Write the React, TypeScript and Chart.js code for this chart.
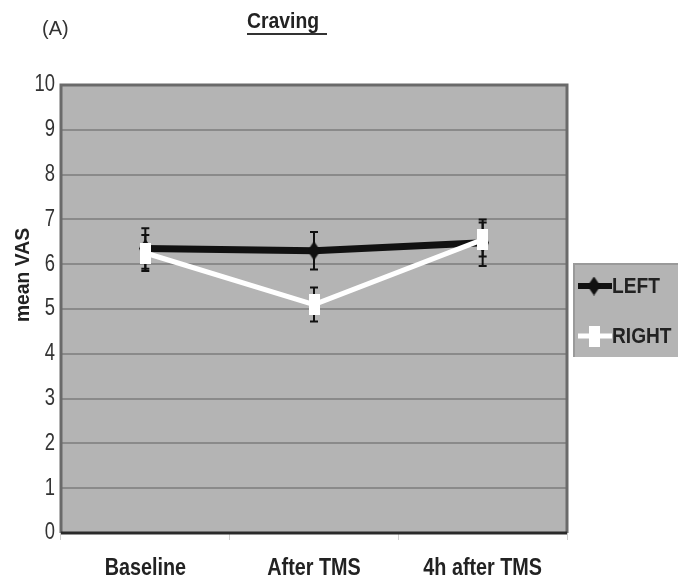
import React, { useEffect, useRef } from 'react';
import { Chart, registerables } from 'chart.js';

Chart.register(...registerables);

const categories = ['Baseline', 'After TMS', '4h after TMS'];
const leftMeans = [6.35, 6.3, 6.48];
const leftErrors = [0.45, 0.42, 0.52];
const rightMeans = [6.25, 5.1, 6.55];
const rightErrors = [0.4, 0.38, 0.38];
const seriesNames = ['LEFT', 'RIGHT'];
const yMin = 0;
const yMax = 10;
const yStep = 1;
const panelLabel = '(A)';
const chartTitle = 'Craving';
const yAxisTitle = 'mean VAS';

const FONT = "'Liberation Sans', Arial, sans-serif";

function makeMarker(kind: 'diamond' | 'rect'): HTMLCanvasElement {
  const c = document.createElement('canvas');
  if (kind === 'diamond') {
    c.width = 13; c.height = 19;
    const g = c.getContext('2d')!;
    g.fillStyle = '#111';
    g.beginPath();
    g.moveTo(6.5, 0); g.lineTo(13, 9.5); g.lineTo(6.5, 19); g.lineTo(0, 9.5);
    g.closePath(); g.fill();
  } else {
    c.width = 11; c.height = 21;
    const g = c.getContext('2d')!;
    g.fillStyle = '#ffffff';
    g.fillRect(0, 0, 11, 21);
  }
  return c;
}

// draw horizontally-condensed text (narrow font look)
function narrowText(ctx: CanvasRenderingContext2D, text: string, x: number, y: number, font: string, sx: number, align: 'left' | 'center' | 'right', color: string, rot = 0) {
  ctx.save();
  ctx.translate(x, y);
  if (rot) ctx.rotate(rot);
  ctx.scale(sx, 1);
  ctx.font = font;
  ctx.fillStyle = color;
  ctx.textAlign = align;
  ctx.textBaseline = 'middle';
  ctx.fillText(text, 0, 0);
  ctx.restore();
}

export default function App() {
  const ref = useRef<HTMLCanvasElement | null>(null);
  useEffect(() => {
    const canvas = ref.current!;
    const leftMarker = makeMarker('diamond');
    const rightMarker = makeMarker('rect');

    const bgPlugin = {
      id: 'bgPlugin',
      beforeDraw(chart: any) {
        const { ctx, chartArea: a } = chart;
        ctx.save();
        ctx.fillStyle = '#ffffff';
        ctx.fillRect(0, 0, chart.width, chart.height);
        ctx.fillStyle = '#b4b4b4';
        ctx.fillRect(a.left, a.top, a.right - a.left, a.bottom - a.top);
        ctx.restore();
      },
    };

    const errPlugin = {
      id: 'errPlugin',
      beforeDatasetsDraw(chart: any) {
        const { ctx } = chart;
        const xs = chart.scales.x;
        const ys = chart.scales.y;
        const sets = [
          { m: leftMeans, e: leftErrors },
          { m: rightMeans, e: rightErrors },
        ];
        ctx.save();
        ctx.strokeStyle = '#111';
        ctx.lineWidth = 2;
        sets.forEach((s) => {
          s.m.forEach((v, i) => {
            const x = xs.getPixelForValue(i);
            const yt = ys.getPixelForValue(v + s.e[i]);
            const yb = ys.getPixelForValue(v - s.e[i]);
            ctx.beginPath();
            ctx.moveTo(x, yt); ctx.lineTo(x, yb);
            ctx.moveTo(x - 4, yt); ctx.lineTo(x + 4, yt);
            ctx.moveTo(x - 4, yb); ctx.lineTo(x + 4, yb);
            ctx.stroke();
          });
        });
        ctx.restore();
      },
    };

    const framePlugin = {
      id: 'framePlugin',
      afterDraw(chart: any) {
        const { ctx, chartArea: a } = chart;
        const xs = chart.scales.x;
        const ys = chart.scales.y;
        ctx.save();
        // frame
        ctx.strokeStyle = '#6a6a6a';
        ctx.lineWidth = 3;
        ctx.beginPath();
        ctx.moveTo(a.left, a.bottom); ctx.lineTo(a.left, a.top); ctx.lineTo(a.right, a.top); ctx.lineTo(a.right, a.bottom);
        ctx.stroke();
        ctx.strokeStyle = '#2a2a2a';
        ctx.lineWidth = 3;
        ctx.beginPath();
        ctx.moveTo(a.left, a.bottom); ctx.lineTo(a.right, a.bottom);
        ctx.stroke();

        // y tick labels
        ys.ticks.forEach((t: any) => {
          const y = ys.getPixelForValue(t.value);
          narrowText(ctx, String(t.value), a.left - 6, y, `23px ${FONT}`, 0.8, 'right', '#333');
        });
        // x tick labels
        xs.getLabels().forEach((lab: string, i: number) => {
          const x = xs.getPixelForValue(i);
          narrowText(ctx, lab, x, a.bottom + 36, `bold 23px ${FONT}`, 0.86, 'center', '#222');
        });
        // y axis title
        narrowText(ctx, yAxisTitle, 23, (a.top + a.bottom) / 2 - 34, `bold 21px ${FONT}`, 0.92, 'center', '#222', -Math.PI / 2);

        // titles
        narrowText(ctx, panelLabel, 42, 29, `21px ${FONT}`, 0.95, 'left', '#333');
        const tx = 247;
        narrowText(ctx, chartTitle, tx, 22, `bold 22px ${FONT}`, 0.88, 'left', '#222');
        ctx.fillStyle = '#333';
        ctx.fillRect(tx, 33, 80, 2);

        // legend
        const lx = a.right + 7;
        const ly = 264;
        ctx.fillStyle = '#b4b4b4';
        ctx.fillRect(lx, ly, chart.width - lx, 93);
        ctx.strokeStyle = '#9a9a9a';
        ctx.lineWidth = 2;
        ctx.beginPath();
        ctx.moveTo(lx, ly + 93); ctx.lineTo(lx, ly); ctx.lineTo(chart.width, ly);
        ctx.stroke();
        const entries = [
          { y: ly + 22, color: '#111', w: 6, marker: leftMarker },
          { y: ly + 72, color: '#ffffff', w: 5, marker: rightMarker },
        ];
        entries.forEach((en, i) => {
          ctx.strokeStyle = en.color;
          ctx.lineWidth = en.w;
          ctx.beginPath();
          ctx.moveTo(lx + 4, en.y); ctx.lineTo(lx + 38, en.y);
          ctx.stroke();
          ctx.drawImage(en.marker, lx + 20 - en.marker.width / 2, en.y - en.marker.height / 2);
          narrowText(ctx, seriesNames[i], lx + 38, en.y + 1, `bold 22px ${FONT}`, 0.87, 'left', '#222');
        });
        ctx.restore();
      },
    };

    const chart = new Chart(canvas, {
      type: 'line',
      data: {
        labels: categories,
        datasets: [
          {
            label: seriesNames[0],
            data: leftMeans,
            borderColor: '#111',
            backgroundColor: '#111',
            borderWidth: 7,
            pointStyle: leftMarker as any,
            pointRadius: 7,
            order: 1,
          },
          {
            label: seriesNames[1],
            data: rightMeans,
            borderColor: '#ffffff',
            backgroundColor: '#ffffff',
            borderWidth: 5,
            pointStyle: rightMarker as any,
            pointRadius: 7,
            order: 0,
          },
        ],
      },
      options: {
        responsive: false,
        animation: false,
        events: [],
        layout: { padding: { top: 85, right: 111, left: 0, bottom: 0 } },
        plugins: { legend: { display: false }, tooltip: { enabled: false }, title: { display: false } },
        scales: {
          x: {
            type: 'category',
            offset: true,
            grid: { display: true, drawOnChartArea: false, drawTicks: true, tickLength: 7, color: '#d0d0d0', lineWidth: 1, offset: true },
            border: { display: false },
            ticks: { display: false },
            afterFit: (s: any) => { s.height = 48; },
          },
          y: {
            min: yMin,
            max: yMax,
            ticks: { stepSize: yStep, display: false },
            grid: { color: '#8a8a8a', lineWidth: 2, drawTicks: false },
            border: { display: false },
            title: { display: false, text: yAxisTitle },
            afterFit: (s: any) => { s.width = 61; },
          },
        },
      },
      plugins: [bgPlugin, errPlugin, framePlugin],
    });
    return () => chart.destroy();
  }, []);

  return (
    <div style={{ position: 'absolute', left: 0, top: 0, width: 678, height: 581, background: '#fff' }}>
      <canvas ref={ref} width={678} height={581} />
    </div>
  );
}
